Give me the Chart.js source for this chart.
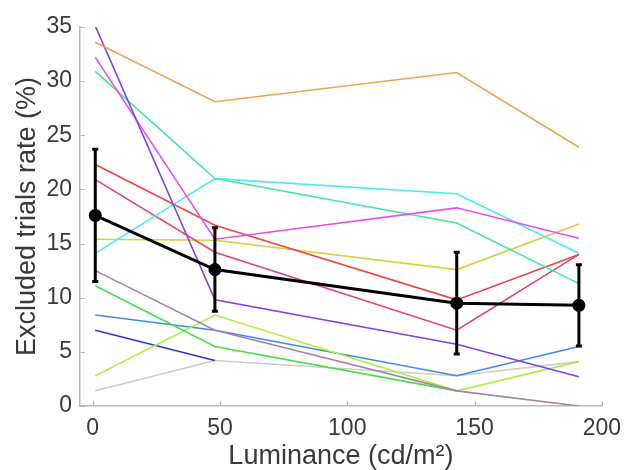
<!DOCTYPE html>
<html>
<head>
<meta charset="utf-8">
<script src="https://cdn.jsdelivr.net/npm/chart.js@4.4.0/dist/chart.umd.min.js"></script>
<style>
  html, body { margin:0; padding:0; background:#fff; }
  #wrap { width:630px; height:470px; }
</style>
</head>
<body>
<div id="wrap"><canvas id="c" width="630" height="470"></canvas></div>
<script>
// luminance levels (cd/m2)
const lum = [1, 48, 143, 191];

// excluded trials rate (%) per subject
const sOrange  = [33.6, 28.1, 30.8, 23.9];
const sPurple  = [35.1, 9.8, 5.7, 2.7];
const sMagenta = [32.2, 15.4, 18.3, 15.5];
const sTeal    = [30.9, 21.0, 16.9, 11.3];
const sCyan    = [14.1, 21.0, 19.6, 14.1];
const sRed     = [22.3, 16.7, 9.8, 14.0];
const sPink    = [20.9, 14.2, 7.0, 14.0];
const sYellow  = [15.4, 15.3, 12.6, 16.8];
const sMauve   = [12.5, 7.0, 1.4, 0];
const sGreen   = [11.1, 5.5, 1.4, null];
const sLime    = [2.8, 8.4, 1.4, 4.1];
const sBlue    = [8.4, 7.0, 2.8, 5.5];
const sNavy    = [7.0, 4.2, null, null];
const sGray    = [1.4, 4.2, 2.8, 4.1];

// group mean and error
const meanRate = [17.6, 12.6, 9.5, 9.3];
const meanErr  = [6.1, 3.85, 4.7, 3.75];

const xTicks = [0, 50, 100, 150, 200];
const yTicks = [0, 5, 10, 15, 20, 25, 30, 35];

const subjects = [
    [sOrange, '#f2a24c'],
    [sPurple, '#7f42ee'],
    [sMagenta, '#e64fee'],
    [sTeal, '#44e6a4'],
    [sCyan, '#46eeee'],
    [sRed, '#ee4444'],
    [sPink, '#e5407c'],
    [sYellow, '#d6d040'],
    [sMauve, '#a684a8'],
    [sGreen, '#44e044'],
    [sLime, '#b2ee44'],
    [sBlue, '#3c8cf0'],
    [sNavy, '#3434dc'],
    [sGray, '#cccccc']
];

function toPoints(vals){
    let pts = [];
    vals.forEach((v,i)=>{ if(v !== null) pts.push({x:lum[i], y:v}); });
    return pts;
}

let datasets = subjects.map(s=>({
    data: toPoints(s[0]),
    borderColor: s[1],
    borderWidth: 1.6,
    pointRadius: 0,
    fill: false,
    order: 2
}));

datasets.push({
    data: toPoints(meanRate),
    borderColor: '#000',
    backgroundColor: '#000',
    borderWidth: 3,
    pointRadius: 5,
    pointBackgroundColor: '#000',
    fill: false,
    order: 0
});

const axisGray = '#b8b8b8';
const textCol = '#3a3a3a';

// error bars of the mean
const errorBars = {
    id: 'errorBars',
    afterDatasetsDraw(chart){
        const ctx = chart.ctx;
        const xs = chart.scales.x, ys = chart.scales.y;
        ctx.save();
        ctx.strokeStyle = '#000';
        ctx.lineWidth = 3;
        meanRate.forEach((m,i)=>{
            const px = xs.getPixelForValue(lum[i]);
            const top = ys.getPixelForValue(m + meanErr[i]);
            const bot = ys.getPixelForValue(m - meanErr[i]);
            ctx.beginPath();
            ctx.moveTo(px, top); ctx.lineTo(px, bot);
            ctx.moveTo(px-3, top); ctx.lineTo(px+3, top);
            ctx.moveTo(px-3, bot); ctx.lineTo(px+3, bot);
            ctx.stroke();
        });
        ctx.restore();
    }
};

// inward tick marks like the original
const innerTicks = {
    id: 'innerTicks',
    afterDraw(chart){
        const ctx = chart.ctx;
        const xs = chart.scales.x, ys = chart.scales.y;
        const area = chart.chartArea;
        ctx.save();
        ctx.strokeStyle = axisGray;
        ctx.lineWidth = 1.2;
        ctx.beginPath();
        xTicks.forEach(t=>{
            const px = Math.round(xs.getPixelForValue(t)) + 0.5;
            ctx.moveTo(px, area.bottom); ctx.lineTo(px, area.bottom - 5);
        });
        yTicks.forEach(t=>{
            const py = Math.round(ys.getPixelForValue(t)) + 0.5;
            ctx.moveTo(area.left, py); ctx.lineTo(area.left + 5, py);
        });
        ctx.stroke();
        ctx.restore();
    }
};

new Chart(document.getElementById('c').getContext('2d'), {
    type: 'line',
    data: { datasets: datasets },
    options: {
        responsive: false,
        animation: false,
        layout: { padding: { top: 27, right: 21, left: 0, bottom: 0 } },
        plugins: { legend: { display: false }, tooltip: { enabled: false } },
        scales: {
            x: {
                type: 'linear',
                min: -5, max: 200,
                afterFit: s => { s.height = 64; },
                grid: { display: false, drawTicks: false },
                border: { display: true, color: axisGray, width: 1.5 },
                ticks: {
                    stepSize: 50, includeBounds: false, padding: 9,
                    color: textCol, font: { family: 'Liberation Sans', size: 23 }
                },
                title: {
                    display: true, text: 'Luminance (cd/m²)', color: textCol,
                    font: { family: 'Liberation Sans', size: 27, lineHeight: 1.0 },
                    padding: { top: 0, bottom: 0 }
                }
            },
            y: {
                min: 0, max: 35,
                afterFit: s => { s.width = 80; },
                grid: { display: false, drawTicks: false },
                border: { display: true, color: axisGray, width: 1.5 },
                ticks: {
                    stepSize: 5, padding: 8,
                    color: textCol, font: { family: 'Liberation Sans', size: 23 }
                },
                title: {
                    display: true, text: 'Excluded trials rate (%)', color: textCol,
                    font: { family: 'Liberation Sans', size: 27, lineHeight: 1.0 },
                    padding: { top: 14, bottom: 0 }
                }
            }
        }
    },
    plugins: [errorBars, innerTicks]
});
</script>
</body>
</html>
